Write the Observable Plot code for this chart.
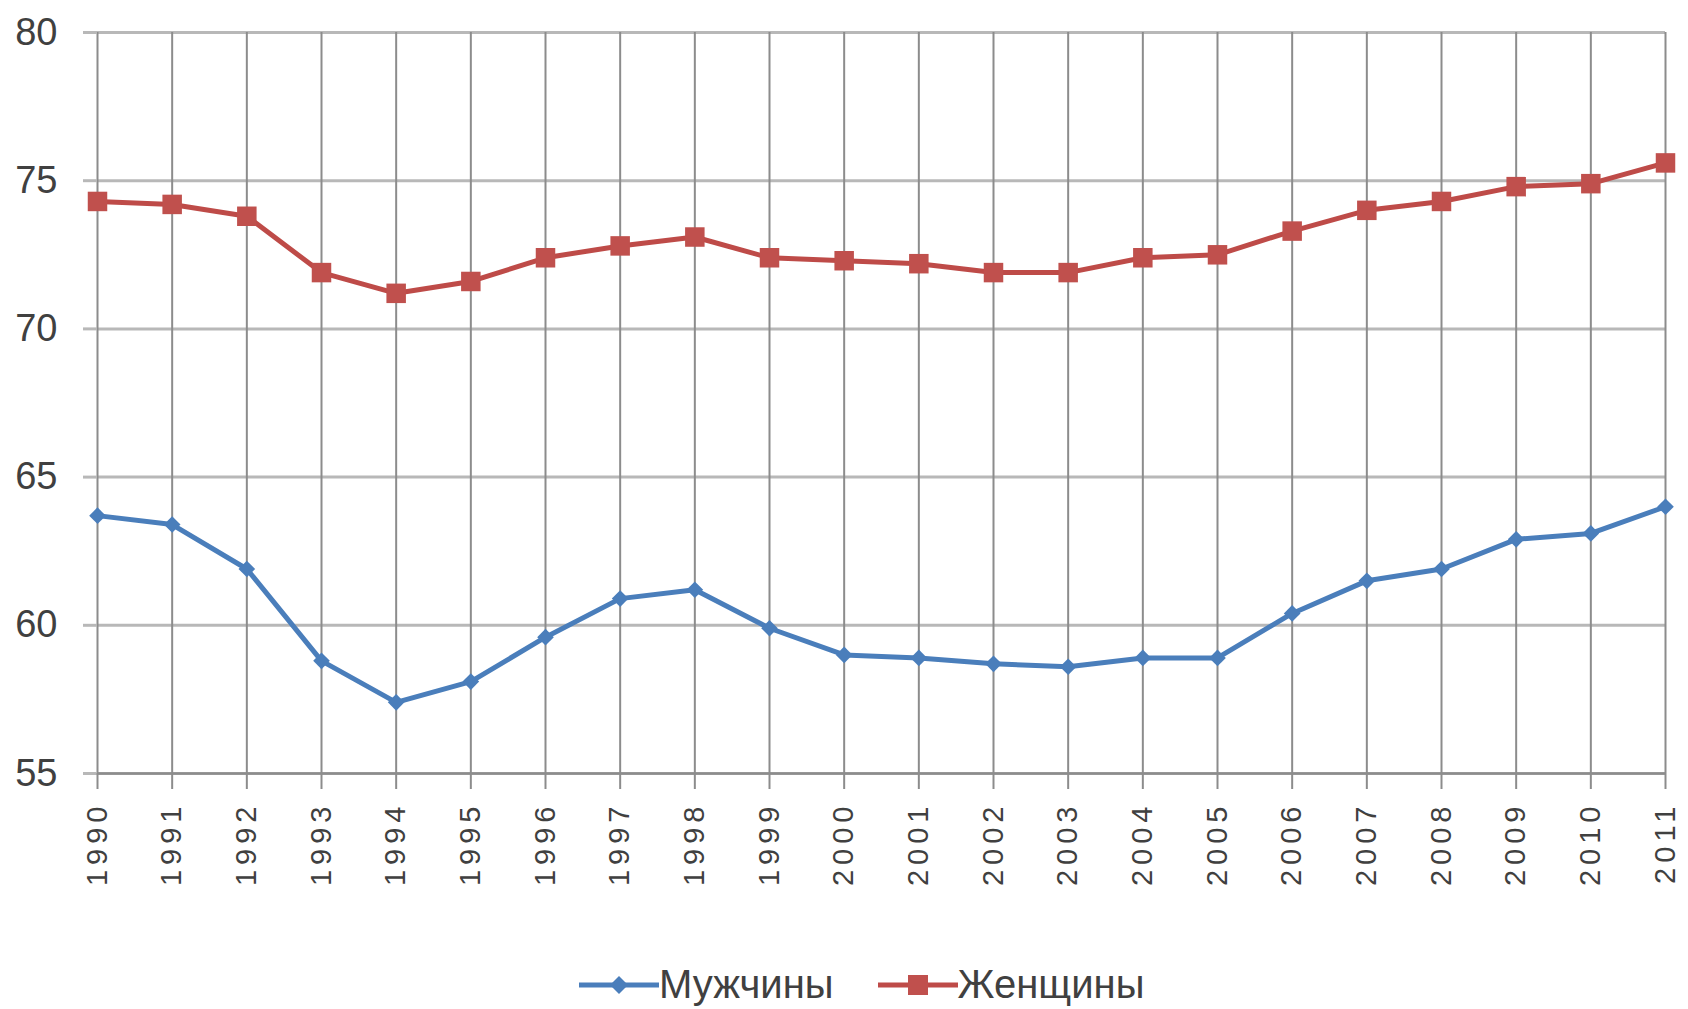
<!DOCTYPE html>
<html>
<head>
<meta charset="utf-8">
<script src="https://cdn.jsdelivr.net/npm/d3@7"></script>
<script src="https://cdn.jsdelivr.net/npm/@observablehq/plot@0.6"></script>
<style>
  html, body { margin: 0; padding: 0; background: #fff; }
  body { width: 1688px; height: 1009px; overflow: hidden; font-family: "Liberation Sans", Arial, sans-serif; }
  #legend { height: 79px; display: flex; align-items: center; padding-left: 579px; padding-top: 30px; box-sizing: border-box; }
  .item { display: flex; align-items: center; font-size: 40px; color: #404040; margin-right: 44px; }
  .item svg { display: block; }
  g[aria-label="x-axis tick label"] text { letter-spacing: 5px; }
</style>
</head>
<body>
<div id="chart"></div>
<div id="legend"></div>
<script>
const years = [1990, 1991, 1992, 1993, 1994, 1995, 1996, 1997, 1998, 1999, 2000, 2001, 2002, 2003, 2004, 2005, 2006, 2007, 2008, 2009, 2010, 2011];
const men   = [63.7, 63.4, 61.9, 58.8, 57.4, 58.1, 59.6, 60.9, 61.2, 59.9, 59.0, 58.9, 58.7, 58.6, 58.9, 58.9, 60.4, 61.5, 61.9, 62.9, 63.1, 64.0];
const women = [74.3, 74.2, 73.8, 71.9, 71.2, 71.6, 72.4, 72.8, 73.1, 72.4, 72.3, 72.2, 71.9, 71.9, 72.4, 72.5, 73.3, 74.0, 74.3, 74.8, 74.9, 75.6];
const seriesNames = ["Мужчины", "Женщины"];
const yTicks = [55, 60, 65, 70, 75, 80];
const lineColors = ["#4A7EBB", "#BE4B48"];
const markerColors = ["#4A7EBB", "#C0504D"];

const menData = years.map((y, i) => ({year: y, value: men[i], series: seriesNames[0]}));
const womenData = years.map((y, i) => ({year: y, value: women[i], series: seriesNames[1]}));

const chart = Plot.plot({
  width: 1688,
  height: 930,
  marginTop: 32,
  marginBottom: 157,
  marginLeft: 97,
  marginRight: 23,
  style: {fontFamily: "'Liberation Sans', Arial, sans-serif", color: "#404040", background: "#fff"},
  x: {domain: [1990, 2011]},
  y: {domain: [55, 80]},
  marks: [
    Plot.gridY(yTicks, {stroke: "#b8b8b8", strokeOpacity: 1, strokeWidth: 3}),
    Plot.gridX(years, {stroke: "#8c8c8c", strokeOpacity: 1, strokeWidth: 2}),
    Plot.axisY(yTicks, {tickSize: 14, tickPadding: 26, fontSize: 38, stroke: "#b8b8b8", strokeWidth: 3, label: null}),
    Plot.axisX(years, {tickSize: 16, tickPadding: 12, tickRotate: -90, fontSize: 29, stroke: "#8c8c8c", strokeWidth: 2, tickFormat: d => String(d), label: null}),
    Plot.ruleY([55], {stroke: "#8c8c8c", strokeWidth: 2.5}),
    Plot.line(menData, {x: "year", y: "value", stroke: lineColors[0], strokeWidth: 5}),
    Plot.line(womenData, {x: "year", y: "value", stroke: lineColors[1], strokeWidth: 5}),
    Plot.dot(menData, {x: "year", y: "value", symbol: "diamond2", r: 7.5, fill: markerColors[0], stroke: "none"}),
    Plot.dot(womenData, {x: "year", y: "value", symbol: "square", r: 11, fill: markerColors[1], stroke: "none"})
  ]
});
document.getElementById("chart").appendChild(chart);

// legend
const legend = d3.select("#legend");
seriesNames.forEach((name, i) => {
  const item = legend.append("div").attr("class", "item");
  const svg = item.append("svg").attr("width", 80).attr("height", 30);
  svg.append("line").attr("x1", 0).attr("x2", 80).attr("y1", 15).attr("y2", 15)
    .attr("stroke", lineColors[i]).attr("stroke-width", 5);
  if (i === 0) {
    svg.append("path").attr("d", "M40,6 L49,15 L40,24 L31,15 Z").attr("fill", markerColors[i]);
  } else {
    svg.append("rect").attr("x", 30).attr("y", 5).attr("width", 20).attr("height", 20).attr("fill", markerColors[i]);
  }
  item.append("span").text(name);
});
</script>
</body>
</html>
